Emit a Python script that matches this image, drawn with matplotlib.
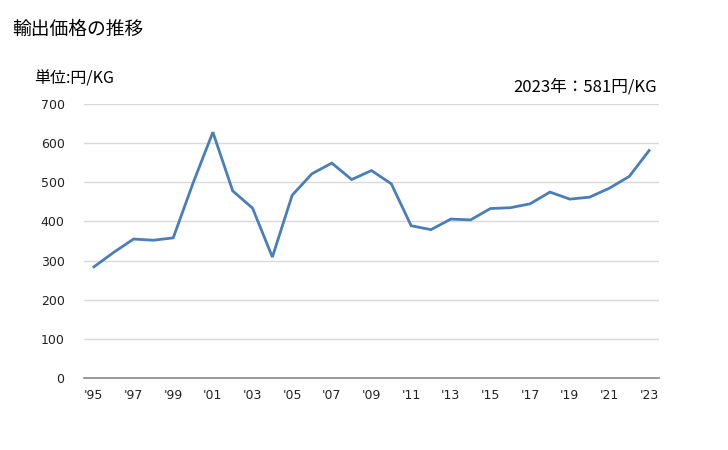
import matplotlib
matplotlib.use("Agg")
import matplotlib.pyplot as plt

years = list(range(1995, 2024))
values = [284, 321, 355, 352, 358, 498, 628, 478, 434, 309, 467, 522, 549, 507, 530,
          496, 389, 379, 406, 404, 433, 435, 445, 475, 457, 462, 485, 515, 581]
tick_years = list(range(1995, 2024, 2))
tick_labels = ["'" + str(y)[2:] for y in tick_years]
yticks = [0, 100, 200, 300, 400, 500, 600, 700]

plt.rcParams['font.family'] = ['Noto Sans CJK JP', 'DejaVu Sans']

fig = plt.figure(figsize=(7.28, 4.5), dpi=100)
ax = fig.add_axes([84/728, 1-378/450, (659-84)/728, (378-104)/450])
ax.plot(years, values, color='#4a7ebb', linewidth=2.0, solid_joinstyle='miter')
ax.set_xlim(1994.5, 2023.5)
ax.set_ylim(0, 700)
ax.set_yticks(yticks)
ax.set_xticks(tick_years)
ax.set_xticklabels(tick_labels, fontfamily='DejaVu Sans', fontsize=9)
ax.set_yticklabels([str(v) for v in yticks], fontfamily='DejaVu Sans', fontsize=9)
ax.grid(axis='y', color='#d9d9d9', linewidth=1)
ax.set_axisbelow(True)
for s in ['top', 'right', 'left']:
    ax.spines[s].set_visible(False)
ax.spines['bottom'].set_color('#888888')
ax.spines['bottom'].set_linewidth(1.2)
ax.tick_params(axis='both', length=0, colors='#222222')
ax.tick_params(axis='y', pad=14)
ax.tick_params(axis='x', pad=8)

fig.text(12/728, 1-29/450, '輸出価格の推移', fontsize=13.5, va='center', ha='left')
fig.text(34/728, 1-79/450, '単位:円/KG', fontsize=11.5, va='center', ha='left')
fig.text(657/728, 1-87/450, '2023年：581円/KG', fontsize=12, va='center', ha='right')

fig.savefig('out.png', dpi=100, facecolor='white')
